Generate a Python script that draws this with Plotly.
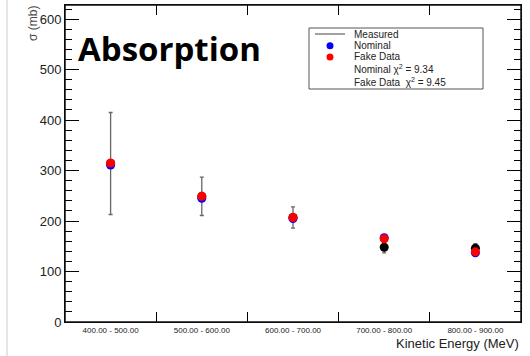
import plotly.graph_objects as go

# Energy bins and cross-section values (mb)
bins = ["400.00 - 500.00", "500.00 - 600.00", "600.00 - 700.00",
        "700.00 - 800.00", "800.00 - 900.00"]
measured = [314, 249, 207, 148, 146]
measured_err = [101, 38, 21, 11, 9]
nominal = [311, 245, 205, 167, 137]
fake_data = [315, 249, 207, 165, 139]

nominal_chi2 = 9.34
fake_chi2 = 9.45

W, H = 530, 356
ML, MR, MT, MB = 65, 9, 5, 34
PW, PH = W - ML - MR, H - MT - MB


def px(x):
    return (x - ML) / PW


def py(y):
    return (H - MB - y) / PH


fig = go.Figure()
fig.add_trace(go.Scatter(
    x=bins, y=measured, mode="markers", name="Measured",
    marker=dict(color="black", size=9),
    error_y=dict(type="data", array=measured_err, color="#666666",
                 thickness=1.3, width=2),
))
fig.add_trace(go.Scatter(
    x=bins, y=nominal, mode="markers", name="Nominal",
    marker=dict(color="#0000ff", size=9),
))
fig.add_trace(go.Scatter(
    x=bins, y=fake_data, mode="markers", name="Fake Data",
    marker=dict(color="#ff0000", size=9),
))

font = "Liberation Sans, Arial, sans-serif"

fig.update_xaxes(
    type="category", range=[-0.5, 4.5], tickson="boundaries",
    ticks="inside", ticklen=10, tickcolor="#000000", tickwidth=1,
    showline=True, linecolor="black", linewidth=1, mirror="ticks",
    showgrid=False, zeroline=False,
    tickfont=dict(family=font, size=8, color="#222"),
)
fig.update_yaxes(
    range=[0, 628], tick0=0, dtick=100,
    ticks="inside", ticklen=14, tickcolor="#000000", tickwidth=1,
    minor=dict(dtick=20, tick0=0, ticks="inside", ticklen=7,
               tickcolor="#000000", tickwidth=1, showgrid=False),
    showline=True, linecolor="black", linewidth=1, mirror="ticks",
    showgrid=False, zeroline=False,
    tickfont=dict(family=font, size=13, color="#222"),
)

shapes = [
    # faint page border on the left
    dict(type="line", xref="paper", yref="paper", x0=px(7), x1=px(7),
         y0=py(0), y1=py(H), line=dict(color="#dddddd", width=1.5)),
    # plot frame
    dict(type="rect", xref="paper", yref="paper", x0=0, x1=1, y0=0, y1=1,
         line=dict(color="#111111", width=1.5), layer="above"),
    # legend frame
    dict(type="rect", xref="paper", yref="paper", x0=px(309), x1=px(483),
         y0=py(89), y1=py(28), line=dict(color="#555555", width=1),
         fillcolor="white", layer="above"),
    # legend line sample
    dict(type="line", xref="paper", yref="paper", x0=px(315), x1=px(345),
         y0=py(34), y1=py(34), line=dict(color="#444444", width=1),
         layer="above"),
]
for yy, col in [(45.7, "#0000ff"), (57, "#ff0000")]:
    shapes.append(dict(
        type="circle", xref="paper", yref="paper",
        xsizemode="pixel", ysizemode="pixel",
        xanchor=px(330), yanchor=py(yy), x0=-3.5, x1=3.5, y0=-3.5, y1=3.5,
        fillcolor=col, line=dict(width=0), layer="above",
    ))

legend_rows = [
    ("Measured", 34),
    ("Nominal", 45.7),
    ("Fake Data", 57),
    (f"Nominal χ<sup>2</sup> = {nominal_chi2:.2f}", 69.5),
    (f"Fake Data  χ<sup>2</sup> = {fake_chi2:.2f}", 81.5),
]
annotations = [
    dict(text=t, x=px(352), y=py(yy), xref="paper", yref="paper",
         xanchor="left", yanchor="middle", showarrow=False,
         font=dict(family=font, size=10, color="#222"))
    for t, yy in legend_rows
]
annotations += [
    dict(text="<b>Absorption</b>", x=px(76), y=py(48), xref="paper",
         yref="paper", xanchor="left", yanchor="middle", showarrow=False,
         font=dict(family="Open Sans, Liberation Sans, sans-serif", size=33,
                   color="black")),
    dict(text="σ (mb)", x=px(33), y=py(24), xref="paper", yref="paper",
         xanchor="center", yanchor="middle", textangle=-90, showarrow=False,
         font=dict(family=font, size=12, color="#444")),
    dict(text="Kinetic Energy (MeV)", x=1, y=py(343), xref="paper",
         yref="paper", xanchor="right", yanchor="middle", showarrow=False,
         font=dict(family=font, size=13, color="#222")),
]

fig.update_layout(
    template="none",
    width=W, height=H, margin=dict(l=ML, r=MR, t=MT, b=MB),
    paper_bgcolor="white", plot_bgcolor="white", showlegend=False,
    shapes=shapes, annotations=annotations,
)

fig.write_html("out.html")
